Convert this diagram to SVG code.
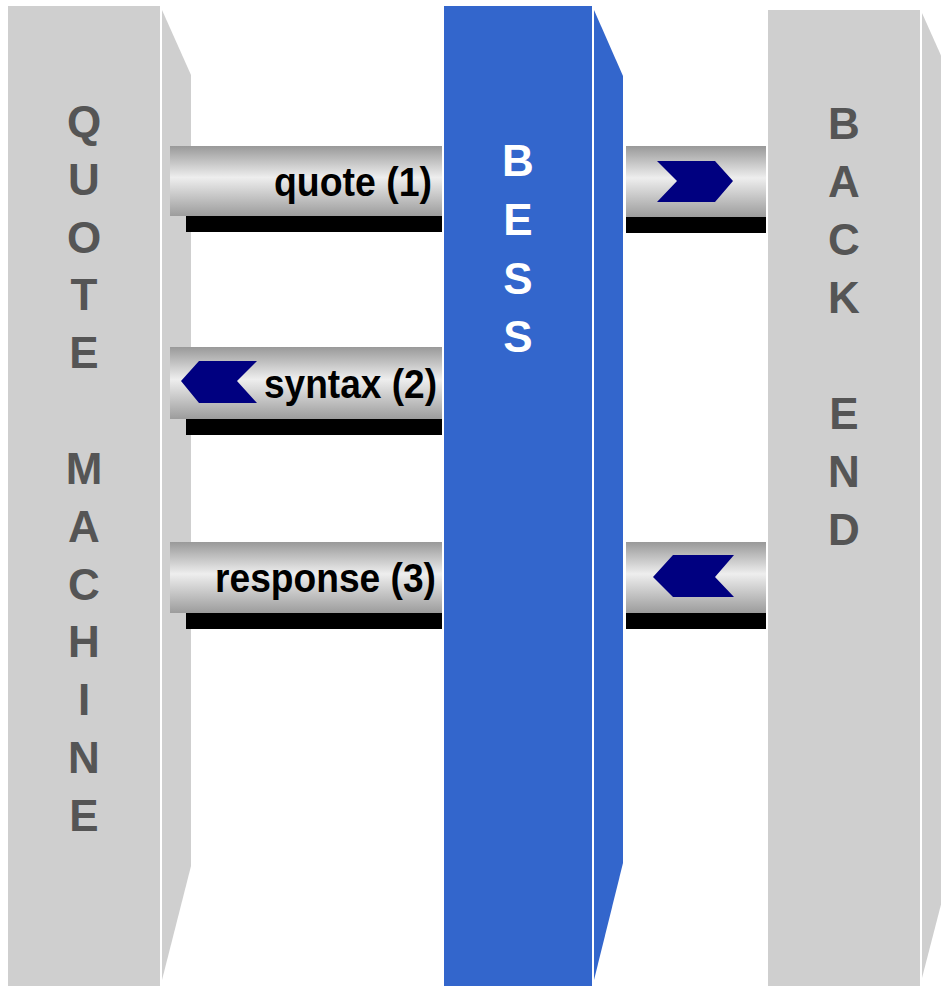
<svg xmlns="http://www.w3.org/2000/svg" width="941" height="986" viewBox="0 0 941 986">
<defs>
<linearGradient id="metal" x1="0" y1="0" x2="0" y2="1">
<stop offset="0" stop-color="#999999"/>
<stop offset="0.45" stop-color="#eeeeee"/>
<stop offset="1" stop-color="#9c9c9c"/>
</linearGradient>
<style>
.gray{fill:#cfcfcf}
.blue{fill:#3366cc}
.col{font-family:"Liberation Sans",Arial,sans-serif;font-weight:bold;font-size:44px;text-anchor:middle}
.dark{fill:#555555}
.white{fill:#ffffff}
.bar{fill:url(#metal)}
.shadow{fill:#000000}
.arrow{fill:#000080}
.lbl{font-family:"Liberation Sans",Arial,sans-serif;font-weight:bold;font-size:40px;fill:#000000;text-anchor:end}
</style>
</defs>
<rect width="941" height="986" fill="#ffffff"/>
<g id="quote-machine">
<rect class="gray" x="8" y="6" width="152" height="980"/>
<polygon class="gray" points="162,10 191,75 191,866 162,980"/>
<g class="col dark">
<text x="84" y="137">Q</text>
<text x="84" y="195">U</text>
<text x="84" y="253">O</text>
<text x="84" y="310">T</text>
<text x="84" y="368">E</text>
<text x="84" y="484">M</text>
<text x="84" y="542">A</text>
<text x="84" y="600">C</text>
<text x="84" y="657">H</text>
<text x="84" y="715">I</text>
<text x="84" y="773">N</text>
<text x="84" y="831">E</text>
</g>
</g>
<g id="bess">
<rect class="blue" x="444" y="6" width="148" height="980"/>
<polygon class="blue" points="594,10 623,76 623,863 594,980"/>
<g class="col white">
<text x="518" y="176">B</text>
<text x="518" y="235">E</text>
<text x="518" y="294">S</text>
<text x="518" y="352">S</text>
</g>
</g>
<g id="back-end">
<rect class="gray" x="768" y="10" width="152" height="976"/>
<polygon class="gray" points="922,13 951,78 951,866 922,978"/>
<g class="col dark">
<text x="844" y="139">B</text>
<text x="844" y="197">A</text>
<text x="844" y="255">C</text>
<text x="844" y="313">K</text>
<text x="844" y="429">E</text>
<text x="844" y="487">N</text>
<text x="844" y="545">D</text>
</g>
</g>
<g id="connectors">
<g id="quote-1">
<rect class="bar" x="170" y="146" width="272" height="70"/>
<rect class="shadow" x="186" y="216" width="256" height="16"/>
<text class="lbl" x="432" y="196" textLength="158" lengthAdjust="spacingAndGlyphs">quote (1)</text>
</g>
<g id="syntax-2">
<rect class="bar" x="170" y="347" width="272" height="72"/>
<rect class="shadow" x="186" y="419" width="256" height="16"/>
<polygon class="arrow" points="181,381 199,361 257,361 237,381 257,403 199,403"/>
<text class="lbl" x="437" y="398" textLength="173" lengthAdjust="spacingAndGlyphs">syntax (2)</text>
</g>
<g id="response-3">
<rect class="bar" x="170" y="542" width="272" height="71"/>
<rect class="shadow" x="186" y="613" width="256" height="16"/>
<text class="lbl" x="436" y="592" textLength="221" lengthAdjust="spacingAndGlyphs">response (3)</text>
</g>
<g id="to-backend">
<rect class="bar" x="626" y="146" width="140" height="71"/>
<rect class="shadow" x="626" y="217" width="140" height="16"/>
<polygon class="arrow" points="657,161 715,161 733,181 715,202 657,202 677,181"/>
</g>
<g id="from-backend">
<rect class="bar" x="626" y="542" width="140" height="71"/>
<rect class="shadow" x="626" y="613" width="140" height="16"/>
<polygon class="arrow" points="653,577 673,555 734,555 715,577 734,597 673,597"/>
</g>
</g>
</svg>
